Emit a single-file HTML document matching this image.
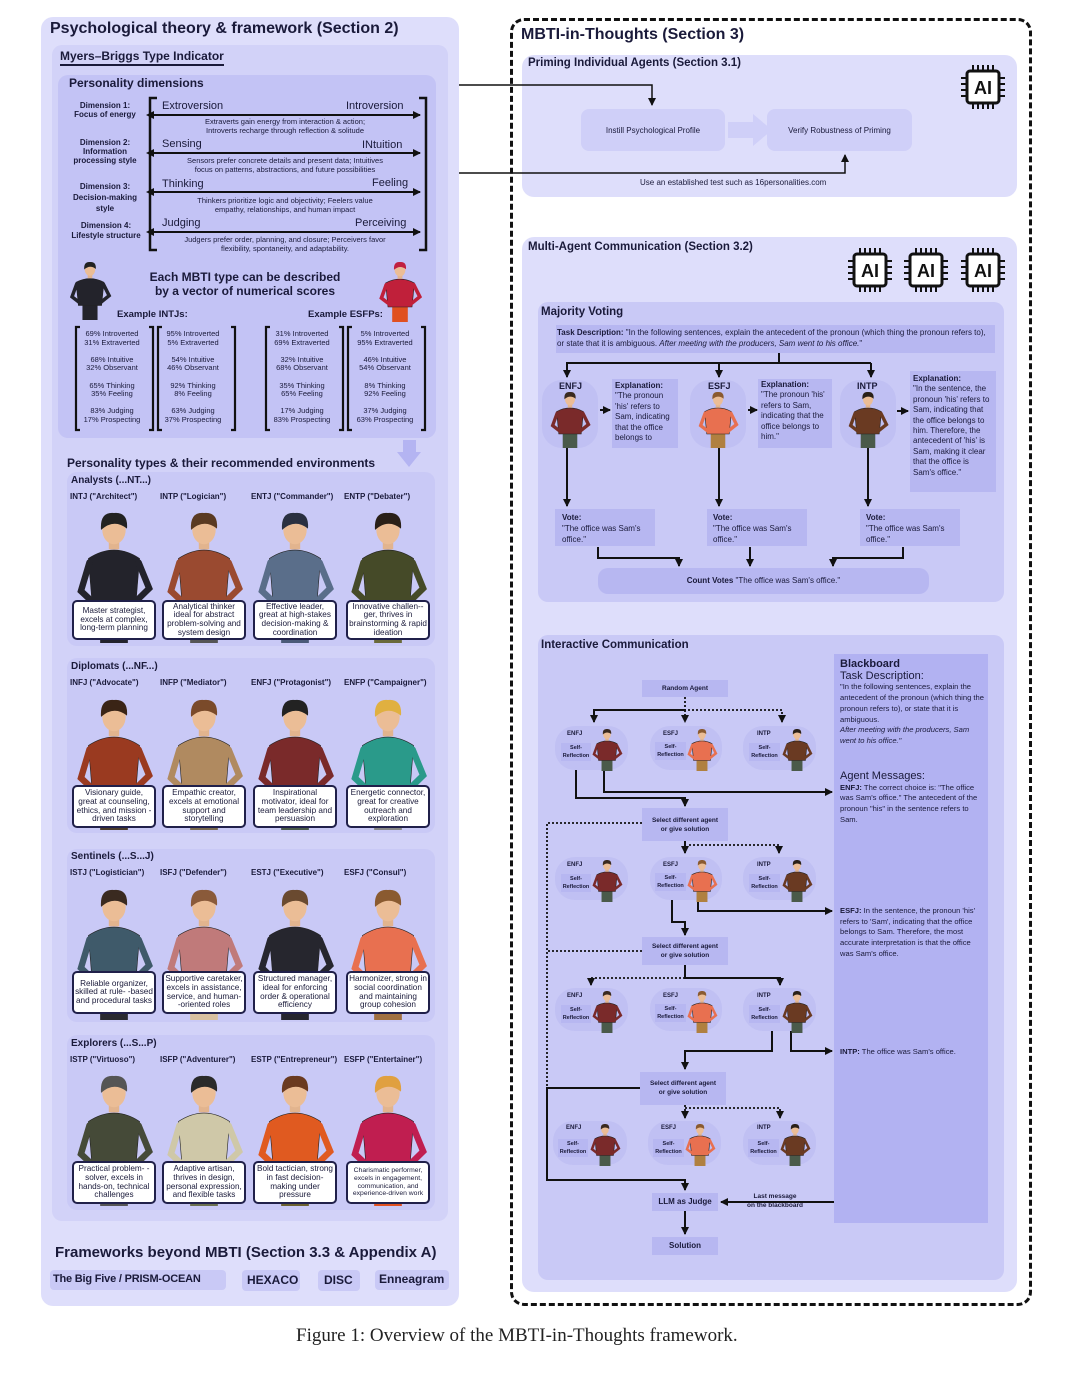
<!DOCTYPE html>
<html><head><meta charset="utf-8">
<style>
*{margin:0;padding:0;box-sizing:border-box}
body{width:1080px;height:1382px;background:#fff;position:relative;font-family:"Liberation Sans",sans-serif;color:#1a1a3a;overflow:hidden}
.a{position:absolute}
.p0{background:#dedefb;border-radius:12px}
.p1{background:#c9c9f6;border-radius:10px}
.bx{background:#b7b7f1}
.t{font-weight:bold}
.card{position:absolute;background:#fff;border:2px solid #20204a;border-radius:5px;font-size:8.2px;line-height:8.6px;text-align:center;display:flex;align-items:center;justify-content:center;padding:1px}
.nm{position:absolute;font-size:8px;font-weight:bold}
.gt{position:absolute;font-size:10px;font-weight:bold}
.ov{position:absolute;background:#c0c0f3;border-radius:20px}
.c{text-align:center}
.sm{font-size:7.5px;line-height:9px}
svg{position:absolute;left:0;top:0}
.fw{white-space:nowrap}
</style></head><body>
<!-- LEFT -->
<div class="a p0" style="left:41px;top:17px;width:418px;height:1289px"></div>
<div class="a t" style="left:50px;top:20px;font-size:16px">Psychological theory &amp; framework (Section 2)</div>
<div class="a" style="left:52px;top:45px;width:396px;height:1176px;background:#d2d2f8;border-radius:10px"></div>
<div class="a t" style="left:60px;top:49px;font-size:12px;border-bottom:2px solid #1a1a3a;padding-bottom:1px">Myers–Briggs Type Indicator</div>
<div class="a p1" style="left:58px;top:75px;width:378px;height:363px;background:#c3c3f5"></div>
<div class="a t" style="left:69px;top:76px;font-size:12px">Personality dimensions</div>
<div class="a t c" style="left:70px;top:101px;width:70px;font-size:8px;line-height:9px">Dimension 1:<br>Focus of energy</div>
<div class="a t c" style="left:70px;top:138px;width:70px;font-size:8px;line-height:9px">Dimension 2:<br>Information<br>processing style</div>
<div class="a t c" style="left:70px;top:181px;width:70px;font-size:8px;line-height:11px">Dimension 3:<br>Decision-making<br>style</div>
<div class="a t c" style="left:66px;top:221px;width:80px;font-size:8px;line-height:10px">Dimension 4:<br>Lifestyle structure</div>
<div class="a" style="left:162px;top:100px;font-size:11px">Extroversion</div><div class="a" style="left:346px;top:100px;font-size:11px">Introversion</div>
<div class="a" style="left:162px;top:138px;font-size:11px">Sensing</div><div class="a" style="left:362px;top:139px;font-size:11px">INtuition</div>
<div class="a" style="left:162px;top:178px;font-size:11px">Thinking</div><div class="a" style="left:372px;top:177px;font-size:11px">Feeling</div>
<div class="a" style="left:162px;top:217px;font-size:11px">Judging</div><div class="a" style="left:355px;top:217px;font-size:11px">Perceiving</div>
<div class="a c" style="left:160px;top:118px;width:250px;font-size:7.5px;line-height:8.5px">Extraverts gain energy from interaction &amp; action;<br>Introverts recharge through reflection &amp; solitude</div>
<div class="a c" style="left:160px;top:157px;width:250px;font-size:7.5px;line-height:8.5px">Sensors prefer concrete details and present data; Intuitives<br>focus on patterns, abstractions, and future possibilities</div>
<div class="a c" style="left:160px;top:197px;width:250px;font-size:7.5px;line-height:8.5px">Thinkers prioritize logic and objectivity; Feelers value<br>empathy, relationships, and human impact</div>
<div class="a c" style="left:160px;top:236px;width:250px;font-size:7.5px;line-height:8.5px">Judgers prefer order, planning, and closure; Perceivers favor<br>flexibility, spontaneity, and adaptability.</div>
<div class="a t c" style="left:140px;top:270px;width:210px;font-size:12px;line-height:14px">Each MBTI type can be described<br>by a vector of numerical scores</div>
<div class="a t" style="left:117px;top:309px;font-size:9.5px">Example INTJs:</div>
<div class="a t" style="left:308px;top:309px;font-size:9.5px">Example ESFPs:</div>
<div class="a c sm" style="left:76px;top:330px;width:72px;line-height:8.6px">69% Introverted<br>31% Extraverted<br><br>68% Intuitive<br>32% Observant<br><br>65% Thinking<br>35% Feeling<br><br>83% Judging<br>17% Prospecting</div>
<div class="a c sm" style="left:157px;top:330px;width:72px;line-height:8.6px">95% Introverted<br>5% Extraverted<br><br>54% Intuitive<br>46% Observant<br><br>92% Thinking<br>8% Feeling<br><br>63% Judging<br>37% Prospecting</div>
<div class="a c sm" style="left:266px;top:330px;width:72px;line-height:8.6px">31% Introverted<br>69% Extraverted<br><br>32% Intuitive<br>68% Observant<br><br>35% Thinking<br>65% Feeling<br><br>17% Judging<br>83% Prospecting</div>
<div class="a c sm" style="left:349px;top:330px;width:72px;line-height:8.6px">5% Introverted<br>95% Extraverted<br><br>46% Intuitive<br>54% Observant<br><br>8% Thinking<br>92% Feeling<br><br>37% Judging<br>63% Prospecting</div>
<div class="a t" style="left:67px;top:456px;font-size:12px">Personality types &amp; their recommended environments</div>

<div class="a p1" style="left:67px;top:472px;width:368px;height:174px"></div>
<div class="a p1" style="left:67px;top:658px;width:368px;height:175px"></div>
<div class="a p1" style="left:67px;top:849px;width:368px;height:173px"></div>
<div class="a p1" style="left:67px;top:1035px;width:368px;height:175px"></div>

<div class="a t" style="left:55px;top:1244px;font-size:15px">Frameworks beyond MBTI (Section 3.3 &amp; Appendix A)</div>
<div class="a t p1 fw" style="left:50px;top:1270px;width:176px;height:20px;font-size:11px;padding:3px 3px;border-radius:4px;letter-spacing:-0.2px">The Big Five / PRISM-OCEAN</div>
<div class="a t p1 fw" style="left:242px;top:1270px;width:58px;height:21px;font-size:12px;padding:3px 5px;border-radius:4px">HEXACO</div>
<div class="a t p1 fw" style="left:318px;top:1270px;width:42px;height:21px;font-size:12px;padding:3px 6px;border-radius:4px">DISC</div>
<div class="a t p1 fw" style="left:375px;top:1270px;width:74px;height:20px;font-size:12px;padding:2px 4px;border-radius:4px">Enneagram</div>

<!-- RIGHT -->
<div class="a" style="left:510px;top:18px;width:522px;height:1288px;border:3px dashed #111;border-radius:14px"></div>
<div class="a t" style="left:521px;top:26px;font-size:16px">MBTI-in-Thoughts (Section 3)</div>
<div class="a p0" style="left:522px;top:55px;width:495px;height:142px"></div>
<div class="a t" style="left:528px;top:57px;font-size:11.5px">Priming Individual Agents (Section 3.1)</div>
<div class="a" style="left:581px;top:109px;width:144px;height:42px;background:#cfcff8;border-radius:8px;font-size:8px;display:flex;align-items:center;justify-content:center">Instill Psychological Profile</div>
<div class="a" style="left:767px;top:109px;width:145px;height:42px;background:#cfcff8;border-radius:8px;font-size:8px;display:flex;align-items:center;justify-content:center">Verify Robustness of Priming</div>
<div class="a" style="left:640px;top:178px;font-size:8px">Use an established test such as 16personalities.com</div>

<div class="a p0" style="left:522px;top:237px;width:495px;height:1055px"></div>
<div class="a t" style="left:528px;top:241px;font-size:11.5px">Multi-Agent Communication (Section 3.2)</div>

<div class="a p1" style="left:538px;top:302px;width:466px;height:300px"></div>
<div class="a t" style="left:541px;top:306px;font-size:11.5px">Majority Voting</div>
<div class="a bx" style="left:556px;top:325px;width:439px;height:28px;font-size:8px;line-height:11px;padding:2px 1px"><b>Task Description:</b> "In the following sentences, explain the antecedent of the pronoun (which thing the pronoun refers to), or state that it is ambiguous. <i>After meeting with the producers, Sam went to his office.</i>"</div>
<div class="ov" style="left:542px;top:380px;width:56px;height:68px"></div>
<div class="ov" style="left:690px;top:380px;width:56px;height:68px"></div>
<div class="ov" style="left:840px;top:380px;width:56px;height:68px"></div>
<div class="a t" style="left:559px;top:381px;font-size:9px">ENFJ</div>
<div class="a t" style="left:708px;top:381px;font-size:9px">ESFJ</div>
<div class="a t" style="left:857px;top:381px;font-size:9px">INTP</div>
<div class="a bx" style="left:612px;top:379px;width:66px;height:69px;font-size:8px;line-height:10.4px;padding:2px 3px"><b>Explanation:</b><br>"The pronoun 'his' refers to Sam, indicating that the office belongs to</div>
<div class="a bx" style="left:758px;top:379px;width:74px;height:69px;font-size:8px;line-height:10.4px;padding:1px 3px"><b>Explanation:</b><br>"The pronoun 'his' refers to Sam, indicating that the office belongs to him."</div>
<div class="a bx" style="left:910px;top:371px;width:86px;height:121px;font-size:8px;line-height:10.4px;padding:3px 3px"><b>Explanation:</b><br>"In the sentence, the pronoun 'his' refers to Sam, indicating that the office belongs to him. Therefore, the antecedent of 'his' is Sam, making it clear that the office is Sam's office."</div>
<div class="a bx" style="left:555px;top:509px;width:100px;height:37px;font-size:8px;line-height:11px;padding:3px 7px"><b>Vote:</b><br>"The office was Sam's office."</div>
<div class="a bx" style="left:707px;top:509px;width:100px;height:37px;font-size:8px;line-height:11px;padding:3px 6px"><b>Vote:</b><br>"The office was Sam's office."</div>
<div class="a bx" style="left:860px;top:509px;width:100px;height:37px;font-size:8px;line-height:11px;padding:3px 6px"><b>Vote:</b><br>"The office was Sam's office."</div>
<div class="a bx c" style="left:598px;top:568px;width:331px;height:26px;border-radius:10px;font-size:8px;line-height:26px"><b>Count Votes</b> "The office was Sam's office."</div>

<div class="a p1" style="left:538px;top:635px;width:466px;height:645px"></div>
<div class="a t" style="left:541px;top:639px;font-size:11.5px">Interactive Communication</div>
<div class="a" style="left:834px;top:654px;width:154px;height:569px;background:#b2b2f2"></div>
<div class="a" style="left:840px;top:659px;width:146px;font-size:7.6px;line-height:10.7px"><b style="font-size:11px">Blackboard</b><br><span style="font-size:11px">Task Description:</span><br>"In the following sentences, explain the antecedent of the pronoun (which thing the pronoun refers to), or state that it is ambiguous.<br><i>After meeting with the producers, Sam went to his office."</i></div>
<div class="a" style="left:840px;top:771px;width:146px;font-size:7.6px;line-height:10.7px"><span style="font-size:11px">Agent Messages:</span><br><b>ENFJ:</b> The correct choice is: "The office was Sam's office." The antecedent of the pronoun "his" in the sentence refers to Sam.</div>
<div class="a" style="left:840px;top:906px;width:146px;font-size:7.6px;line-height:10.7px"><b>ESFJ:</b> In the sentence, the pronoun 'his' refers to 'Sam', indicating that the office belongs to Sam. Therefore, the most accurate interpretation is that the office was Sam's office.</div>
<div class="a" style="left:840px;top:1047px;width:146px;font-size:7.6px"><b>INTP:</b> The office was Sam's office.</div>

<div class="a bx c t" style="left:642px;top:680px;width:86px;height:17px;font-size:6.5px;line-height:17px">Random Agent</div>
<div class="a bx c t" style="left:642px;top:808px;width:86px;height:33px;font-size:6.5px;line-height:9px;padding-top:8px">Select different agent<br>or give solution</div>
<div class="a bx c t" style="left:642px;top:937px;width:86px;height:28px;font-size:6.5px;line-height:9px;padding-top:5px">Select different agent<br>or give solution</div>
<div class="a bx c t" style="left:640px;top:1072px;width:86px;height:33px;font-size:6.5px;line-height:9px;padding-top:7px">Select different agent<br>or give solution</div>
<div class="a bx c t" style="left:652px;top:1193px;width:66px;height:18px;font-size:8px;line-height:18px">LLM as Judge</div>
<div class="a bx c t" style="left:652px;top:1237px;width:66px;height:18px;font-size:8px;line-height:18px">Solution</div>
<div class="a c t" style="left:740px;top:1192px;width:70px;font-size:6.5px;line-height:9px">Last message<br>on the blackboard</div>

<svg id="s" width="1080" height="1382" viewBox="0 0 1080 1382">
<defs>
<marker id="ar" markerWidth="8" markerHeight="8" refX="7" refY="4" orient="auto" markerUnits="userSpaceOnUse"><path d="M0,0 L8,4 L0,8 z" fill="#111"/></marker>
<marker id="ar2" markerWidth="8" markerHeight="8" refX="1" refY="4" orient="auto-start-reverse" markerUnits="userSpaceOnUse"><path d="M0,0 L8,4 L0,8 z" fill="#111"/></marker>
</defs>
<g stroke="#111" fill="none" stroke-width="2.5">
<path d="M157,98 H150 V250 H157"/><path d="M419,98 H426 V250 H419"/>
</g>
<g stroke="#111" stroke-width="2" marker-end="url(#ar)" marker-start="url(#ar2)">
<line x1="153" y1="115" x2="420" y2="115"/><line x1="153" y1="153" x2="420" y2="153"/>
<line x1="153" y1="192" x2="420" y2="192"/><line x1="153" y1="232" x2="420" y2="232"/>
</g>
<g stroke="#111" fill="none" stroke-width="2.2">
<path d="M80,327 H76 V430 H80"/><path d="M149,327 H153 V430 H149"/>
<path d="M162,327 H158 V430 H162"/><path d="M231,327 H235 V430 H231"/>
<path d="M270,327 H266 V430 H270"/><path d="M339,327 H343 V430 H339"/>
<path d="M352,327 H348 V430 H352"/><path d="M421,327 H425 V430 H421"/>
</g>
<path d="M403,440 H416 V452 H421 L409,467 L397,452 H403 Z" fill="#b4b4f2"/>
<path d="M728,122 H753 V114 L772,130 L753,146 V138 H728 Z" fill="#cfcff8"/>
<g stroke="#111" stroke-width="1.5" fill="none">
<path d="M459,85 H652 V105" marker-end="url(#ar)"/>
<path d="M459,173 H845 V155" marker-end="url(#ar)"/>
</g>
<g stroke="#111" stroke-width="2" fill="none">
<path d="M779,353 V363"/><path d="M566,363 H871"/>
<path d="M567,363 V377" marker-end="url(#ar)"/><path d="M719,363 V377" marker-end="url(#ar)"/><path d="M871,363 V377" marker-end="url(#ar)"/>
<path d="M600,410 H610" marker-end="url(#ar)"/><path d="M748,410 H757" marker-end="url(#ar)"/><path d="M897,411 H908" marker-end="url(#ar)"/>
<path d="M567,448 V506" marker-end="url(#ar)"/><path d="M719,448 V506" marker-end="url(#ar)"/><path d="M868,448 V506" marker-end="url(#ar)"/>
<path d="M598,547 V558 H679 V566" marker-end="url(#ar)"/><path d="M750,547 V566" marker-end="url(#ar)"/><path d="M903,547 V558 H833 V566" marker-end="url(#ar)"/>
</g>
<g stroke="#111" stroke-width="2" fill="none">
<path d="M685,710 H594 V722" marker-end="url(#ar)"/>
<path d="M576,770 V798 H685 V806" marker-end="url(#ar)"/>
<path d="M604,770 V792 H832" marker-end="url(#ar)"/>
<path d="M685,841 V853" marker-end="url(#ar)"/>
<path d="M672,900 V922 H685 V935" marker-end="url(#ar)"/>
<path d="M698,900 V911 H832" marker-end="url(#ar)"/>
<path d="M685,965 V978 H780 V985" marker-end="url(#ar)"/>
<path d="M772,1031 V1051 H685 V1069" marker-end="url(#ar)"/>
<path d="M791,1031 V1051 H832" marker-end="url(#ar)"/>
<path d="M640,1088 H547 V1180 H685 V1190" marker-end="url(#ar)"/>
<path d="M834,1202 H721" marker-end="url(#ar)"/>
<path d="M685,1211 V1234" marker-end="url(#ar)"/>
</g>
<g stroke="#111" stroke-width="1.8" fill="none" stroke-dasharray="2,2">
<path d="M685,697 V710 H782 V722" marker-end="url(#ar)"/><path d="M685,710 V722" marker-end="url(#ar)"/>
<path d="M642,823 H547 V1088"/>
<path d="M642,951 H547"/>
<path d="M689,845 H779 V853" marker-end="url(#ar)"/>
<path d="M685,978 H591 V985" marker-end="url(#ar)"/>
<path d="M685,1105 V1118" marker-end="url(#ar)"/><path d="M685,1108 H780 V1118" marker-end="url(#ar)"/>
</g>
<g id="figs"></g>
</svg>

<div class="gt" style="left:71px;top:475px">Analysts (...NT...)</div>
<div class="nm" style="left:70px;top:492px">INTJ ("Architect")</div><div class="nm" style="left:160px;top:492px">INTP ("Logician")</div><div class="nm" style="left:251px;top:492px">ENTJ ("Commander")</div><div class="nm" style="left:344px;top:492px">ENTP ("Debater")</div>
<div class="card" style="left:72px;top:600px;width:84px;height:40px">Master strategist, excels at complex, long-term planning</div>
<div class="card" style="left:162px;top:600px;width:84px;height:40px">Analytical thinker ideal for abstract problem-solving and system design</div>
<div class="card" style="left:253px;top:600px;width:84px;height:40px">Effective leader, great at high-stakes decision-making &amp; coordination</div>
<div class="card" style="left:346px;top:600px;width:84px;height:40px">Innovative challen--ger, thrives in brainstorming &amp; rapid ideation</div>

<div class="gt" style="left:71px;top:661px">Diplomats (...NF...)</div>
<div class="nm" style="left:70px;top:678px">INFJ ("Advocate")</div><div class="nm" style="left:160px;top:678px">INFP ("Mediator")</div><div class="nm" style="left:251px;top:678px">ENFJ ("Protagonist")</div><div class="nm" style="left:344px;top:678px">ENFP ("Campaigner")</div>
<div class="card" style="left:72px;top:785px;width:84px;height:43px">Visionary guide, great at counseling, ethics, and mission -driven tasks</div>
<div class="card" style="left:162px;top:785px;width:84px;height:43px">Empathic creator, excels at emotional support and storytelling</div>
<div class="card" style="left:253px;top:785px;width:84px;height:43px">Inspirational motivator, ideal for team leadership and persuasion</div>
<div class="card" style="left:346px;top:785px;width:84px;height:43px">Energetic connector, great for creative outreach and exploration</div>

<div class="gt" style="left:71px;top:851px">Sentinels (...S...J)</div>
<div class="nm" style="left:70px;top:868px">ISTJ ("Logistician")</div><div class="nm" style="left:160px;top:868px">ISFJ ("Defender")</div><div class="nm" style="left:251px;top:868px">ESTJ ("Executive")</div><div class="nm" style="left:344px;top:868px">ESFJ ("Consul")</div>
<div class="card" style="left:72px;top:971px;width:84px;height:43px">Reliable organizer, skilled at rule- -based and procedural tasks</div>
<div class="card" style="left:162px;top:971px;width:84px;height:43px">Supportive caretaker, excels in assistance, service, and human- -oriented roles</div>
<div class="card" style="left:253px;top:971px;width:84px;height:43px">Structured manager, ideal for enforcing order &amp; operational efficiency</div>
<div class="card" style="left:346px;top:971px;width:84px;height:43px">Harmonizer, strong in social coordination and maintaining group cohesion</div>

<div class="gt" style="left:71px;top:1038px">Explorers (...S...P)</div>
<div class="nm" style="left:70px;top:1055px">ISTP ("Virtuoso")</div><div class="nm" style="left:160px;top:1055px">ISFP ("Adventurer")</div><div class="nm" style="left:251px;top:1055px">ESTP ("Entrepreneur")</div><div class="nm" style="left:344px;top:1055px">ESFP ("Entertainer")</div>
<div class="card" style="left:72px;top:1161px;width:84px;height:43px">Practical problem- -solver, excels in hands-on, technical challenges</div>
<div class="card" style="left:162px;top:1161px;width:84px;height:43px">Adaptive artisan, thrives in design, personal expression, and flexible tasks</div>
<div class="card" style="left:253px;top:1161px;width:84px;height:43px">Bold tactician, strong in fast decision-making under pressure</div>
<div class="card" style="left:346px;top:1161px;width:84px;height:43px;font-size:6.8px;line-height:7.6px">Charismatic performer, excels in engagement, communication, and experience-driven work</div>

<div class="ov" style="left:555px;top:726px;width:73px;height:44px"></div><div class="ov" style="left:650px;top:726px;width:72px;height:44px"></div><div class="ov" style="left:743px;top:726px;width:73px;height:44px"></div>
<div class="ov" style="left:555px;top:857px;width:73px;height:43px"></div><div class="ov" style="left:650px;top:857px;width:72px;height:43px"></div><div class="ov" style="left:743px;top:857px;width:73px;height:43px"></div>
<div class="ov" style="left:555px;top:988px;width:73px;height:43px"></div><div class="ov" style="left:650px;top:988px;width:72px;height:43px"></div><div class="ov" style="left:743px;top:988px;width:73px;height:43px"></div>
<div class="ov" style="left:553px;top:1121px;width:74px;height:44px"></div><div class="ov" style="left:648px;top:1121px;width:73px;height:44px"></div><div class="ov" style="left:743px;top:1121px;width:73px;height:44px"></div>

<div class="a" style="left:296px;top:1325px;font-family:'Liberation Serif',serif;font-size:19px;color:#222">Figure 1: Overview of the MBTI-in-Thoughts framework.</div>

<div class="a t" style="left:567px;top:731px;font-size:6px">ENFJ</div><div class="a t" style="left:663px;top:731px;font-size:6px">ESFJ</div><div class="a t" style="left:757px;top:731px;font-size:6px">INTP</div>
<div class="a t" style="left:567px;top:862px;font-size:6px">ENFJ</div><div class="a t" style="left:663px;top:862px;font-size:6px">ESFJ</div><div class="a t" style="left:757px;top:862px;font-size:6px">INTP</div>
<div class="a t" style="left:567px;top:993px;font-size:6px">ENFJ</div><div class="a t" style="left:663px;top:993px;font-size:6px">ESFJ</div><div class="a t" style="left:757px;top:993px;font-size:6px">INTP</div>
<div class="a t" style="left:566px;top:1125px;font-size:6px">ENFJ</div><div class="a t" style="left:661px;top:1125px;font-size:6px">ESFJ</div><div class="a t" style="left:757px;top:1125px;font-size:6px">INTP</div>
<div class="a bx c t" style="left:561px;top:743px;width:30px;height:18px;font-size:5.5px;line-height:8px;padding-top:1px">Self-<br>Reflection</div><div class="a bx c t" style="left:655px;top:742px;width:31px;height:18px;font-size:5.5px;line-height:8px;padding-top:1px">Self-<br>Reflection</div><div class="a bx c t" style="left:749px;top:743px;width:31px;height:18px;font-size:5.5px;line-height:8px;padding-top:1px">Self-<br>Reflection</div>
<div class="a bx c t" style="left:561px;top:874px;width:30px;height:18px;font-size:5.5px;line-height:8px;padding-top:1px">Self-<br>Reflection</div><div class="a bx c t" style="left:655px;top:873px;width:31px;height:18px;font-size:5.5px;line-height:8px;padding-top:1px">Self-<br>Reflection</div><div class="a bx c t" style="left:749px;top:874px;width:31px;height:18px;font-size:5.5px;line-height:8px;padding-top:1px">Self-<br>Reflection</div>
<div class="a bx c t" style="left:561px;top:1005px;width:30px;height:18px;font-size:5.5px;line-height:8px;padding-top:1px">Self-<br>Reflection</div><div class="a bx c t" style="left:655px;top:1004px;width:31px;height:18px;font-size:5.5px;line-height:8px;padding-top:1px">Self-<br>Reflection</div><div class="a bx c t" style="left:749px;top:1005px;width:31px;height:18px;font-size:5.5px;line-height:8px;padding-top:1px">Self-<br>Reflection</div>
<div class="a bx c t" style="left:558px;top:1139px;width:30px;height:18px;font-size:5.5px;line-height:8px;padding-top:1px">Self-<br>Reflection</div><div class="a bx c t" style="left:653px;top:1139px;width:31px;height:18px;font-size:5.5px;line-height:8px;padding-top:1px">Self-<br>Reflection</div><div class="a bx c t" style="left:748px;top:1139px;width:31px;height:18px;font-size:5.5px;line-height:8px;padding-top:1px">Self-<br>Reflection</div>

<svg id="s2" width="1080" height="1382" viewBox="0 0 1080 1382" style="pointer-events:none"><g id="figs2"></g><g id="chips2"></g></svg>

<script>
var NS="http://www.w3.org/2000/svg";
function el(g,tag,at){var e=document.createElementNS(NS,tag);for(var k in at)e.setAttribute(k,at[k]);g.appendChild(e);return e;}
function fig(g,cx,y,h,body,hair,legs,wx){
 var s=h/100, w=s*(wx||1);
 el(g,'rect',{x:cx-13*w,y:y+68*s,width:26*w,height:32*s,fill:legs||'#4a4a55'});
 el(g,'path',{d:'M'+(cx-20*w)+','+(y+75*s)+' L'+(cx-24*w)+','+(y+35*s)+' Q'+cx+','+(y+22*s)+' '+(cx+24*w)+','+(y+35*s)+' L'+(cx+20*w)+','+(y+75*s)+' Z',fill:body,stroke:'#222','stroke-width':0.6});
 el(g,'path',{d:'M'+(cx-23*w)+','+(y+38*s)+' L'+(cx-31*w)+','+(y+60*s)+' L'+(cx-18*w)+','+(y+70*s),fill:'none',stroke:body,'stroke-width':6*w,'stroke-linecap':'round'});
 el(g,'path',{d:'M'+(cx+23*w)+','+(y+38*s)+' L'+(cx+33*w)+','+(y+58*s)+' L'+(cx+18*w)+','+(y+70*s),fill:'none',stroke:body,'stroke-width':6*w,'stroke-linecap':'round'});
 el(g,'rect',{x:cx-4*s,y:y+20*s,width:8*s,height:8*s,fill:'#e2b48e'});
 el(g,'ellipse',{cx:cx,cy:y+13*s,rx:9*s,ry:11*s,fill:'#ebbd96'});
 el(g,'path',{d:'M'+(cx-10*s)+','+(y+13*s)+' Q'+(cx-11*s)+','+(y-1*s)+' '+cx+','+(y)+' Q'+(cx+11*s)+','+(y-1*s)+' '+(cx+10*s)+','+(y+12*s)+' Q'+cx+','+(y+4*s)+' '+(cx-10*s)+','+(y+13*s)+'Z',fill:hair});
}
var F=document.getElementById('figs');
var cols=[114,204,295,388];
var groups=[[505,[['#23232b','#222','#23232b'],['#9a4a30','#5a3a22','#555'],['#5a6e8a','#2a3040','#4a5a78'],['#454a28','#2a2018','#6a6a3a']]],
 [692,[['#9a3a20','#3a2416','#4a3a2a'],['#b08a60','#7a4a2a','#7a6a50'],['#7a2a2a','#222','#4a5a4a'],['#2a9a8a','#e0b040','#888']]],
 [882,[['#3f5a6a','#3a2a20','#2a2a30'],['#c07a7a','#8a5a3a','#d8c0a0'],['#26262e','#6a4a30','#26262e'],['#e87050','#8a5a30','#a07040']]],
 [1068,[['#454a38','#555','#555'],['#cfc8a8','#2a2a2a','#6a7050'],['#e05a20','#6a3a20','#6a6030'],['#c01e50','#e0a040','#e05020']]]];
groups.forEach(function(gr){gr[1].forEach(function(c,i){fig(F,cols[i],gr[0]+8,130,c[0],c[1],c[2],0.82);});});
fig(F,90,262,58,'#23232b','#222','#23232b');
fig(F,400,262,60,'#c0203a','#c02040','#e05020');
fig(F,570,392,56,'#7a2a2a','#3a2a20','#4a5a4a');
fig(F,718,392,56,'#e87050','#8a5a30','#b08040');
fig(F,868,392,56,'#6a3a22','#2a2018','#4a5a4a');
var F2=document.getElementById('figs2');
[[727],[858],[989],[1122]].forEach(function(r,ri){
 var xs=ri==3?[605,700,795]:[607,702,797];
 fig(F2,xs[0],r[0]+2,42,'#7a2a2a','#3a2a20','#4a5a4a');
 fig(F2,xs[1],r[0]+2,42,'#e87050','#8a5a30','#b08040');
 fig(F2,xs[2],r[0]+2,42,'#6a3a22','#2a2018','#4a5a4a');
});
var C=document.getElementById('chips2');
function chip(x,y){
 el(C,'rect',{x:x+6,y:y+6,width:32,height:32,rx:3,fill:'#fff',stroke:'#111','stroke-width':3});
 for(var i=0;i<5;i++){var o=x+12+i*5;
  el(C,'line',{x1:o,y1:y,x2:o,y2:y+6,stroke:'#111','stroke-width':2});
  el(C,'line',{x1:o,y1:y+38,x2:o,y2:y+44,stroke:'#111','stroke-width':2});}
 for(var j=0;j<4;j++){var p=y+13+j*6;
  el(C,'line',{x1:x,y1:p,x2:x+6,y2:p,stroke:'#111','stroke-width':2});
  el(C,'line',{x1:x+38,y1:p,x2:x+44,y2:p,stroke:'#111','stroke-width':2});}
 var t=el(C,'text',{x:x+22,y:y+29,'text-anchor':'middle','font-family':'Liberation Sans, sans-serif','font-weight':'bold','font-size':18,fill:'#111'});t.textContent='AI';
}
chip(961,65);chip(848,248);chip(904,248);chip(961,248);
</script>
</body></html>
